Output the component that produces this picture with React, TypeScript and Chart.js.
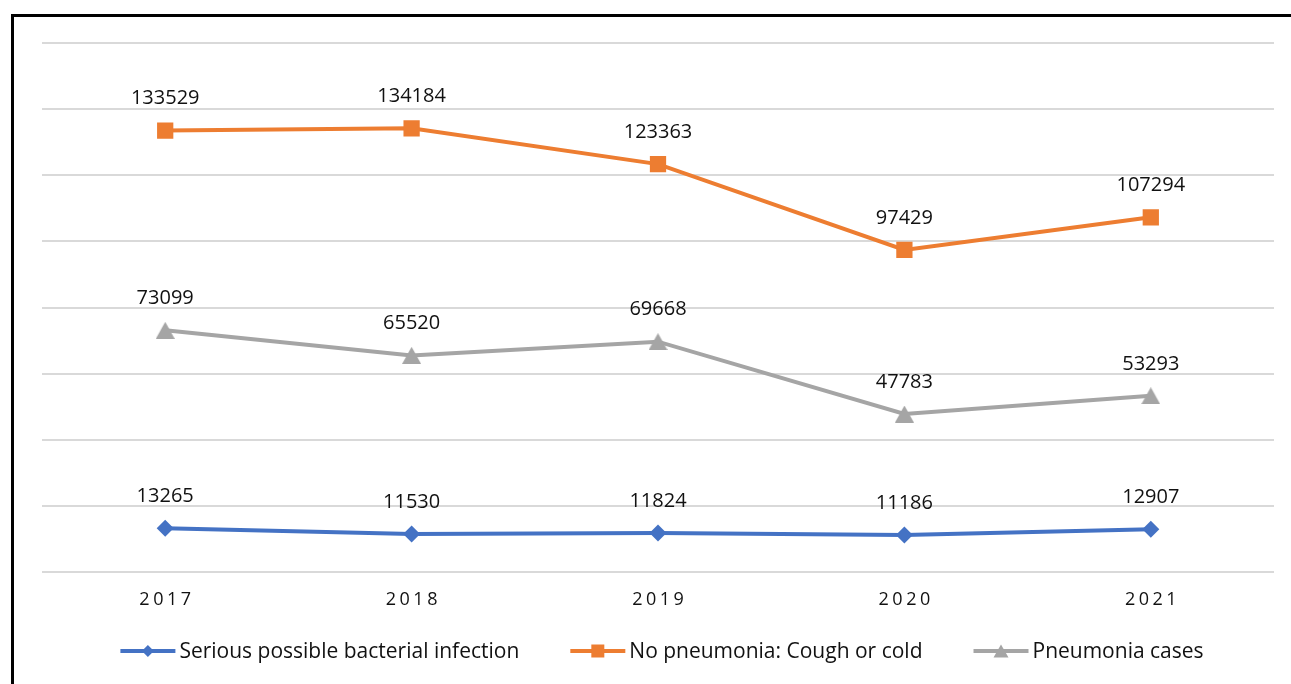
import React, { useEffect, useRef } from "react";
import { Chart, registerables } from "chart.js";

Chart.register(...registerables);

const years = ["2017", "2018", "2019", "2020", "2021"];
const seriesNames = [
  "Serious possible bacterial infection",
  "No pneumonia: Cough or cold",
  "Pneumonia cases",
];
const sbiValues = [13265, 11530, 11824, 11186, 12907];
const coughColdValues = [133529, 134184, 123363, 97429, 107294];
const pneumoniaValues = [73099, 65520, 69668, 47783, 53293];
const yMin = 0;
const yMax = 160000;
const yStep = 20000;

const colors = ["#4472C4", "#ED7D31", "#A5A5A5"];
const markerRadii = [8.5, 11.5, 10];

const FONT = '"Open Sans", "Liberation Sans", sans-serif';

function makeTriangle(w: number, h: number, color: string): HTMLCanvasElement {
  const c = document.createElement("canvas");
  c.width = Math.ceil(w);
  c.height = Math.ceil(h);
  const ctx = c.getContext("2d")!;
  ctx.fillStyle = color;
  ctx.beginPath();
  ctx.moveTo(c.width / 2, 0);
  ctx.lineTo(c.width, c.height);
  ctx.lineTo(0, c.height);
  ctx.closePath();
  ctx.fill();
  return c;
}

const dataLabelPlugin = {
  id: "dataLabels",
  afterDatasetsDraw(chart: any) {
    const ctx = chart.ctx;
    ctx.save();
    ctx.font = `20px ${FONT}`;
    ctx.fillStyle = "#111111";
    ctx.textAlign = "center";
    ctx.textBaseline = "middle";
    chart.data.datasets.forEach((ds: any, i: number) => {
      const meta = chart.getDatasetMeta(i);
      meta.data.forEach((pt: any, j: number) => {
        ctx.fillText(String(ds.data[j]), pt.x, pt.y - 32);
      });
    });
    ctx.restore();
  },
};

const xLabelPlugin = {
  id: "xLabels",
  afterDraw(chart: any) {
    const ctx = chart.ctx;
    const xs = chart.scales.x;
    ctx.save();
    ctx.font = `18px ${FONT}`;
    ctx.fillStyle = "#111111";
    ctx.textAlign = "center";
    ctx.textBaseline = "middle";
    const spacing = 3.5;
    (ctx as any).letterSpacing = `${spacing}px`;
    chart.data.labels.forEach((lab: string, i: number) => {
      ctx.fillText(lab, xs.getPixelForValue(i) + spacing / 2, 600);
    });
    ctx.restore();
  },
};

function drawMarker(ctx: CanvasRenderingContext2D, idx: number, x: number, y: number) {
  ctx.beginPath();
  if (idx === 0) {
    const r = 6;
    ctx.moveTo(x - r, y);
    ctx.lineTo(x, y - r);
    ctx.lineTo(x + r, y);
    ctx.lineTo(x, y + r);
  } else if (idx === 1) {
    const r = 6.5;
    ctx.rect(x - r, y - r, 2 * r, 2 * r);
  } else {
    const w = 7.5;
    const h = 6.5;
    ctx.moveTo(x, y - h);
    ctx.lineTo(x + w, y + h);
    ctx.lineTo(x - w, y + h);
  }
  ctx.closePath();
  ctx.fill();
}

const legendPlugin = {
  id: "customLegend",
  afterDraw(chart: any) {
    const ctx = chart.ctx;
    ctx.save();
    ctx.font = `21px ${FONT}`;
    ctx.textBaseline = "middle";
    ctx.textAlign = "left";
    const lineLen = 55;
    const textGap = 4;
    const itemGap = 51;
    const widths = seriesNames.map((n) => ctx.measureText(n).width);
    const total =
      widths.reduce((a, b) => a + b, 0) + seriesNames.length * (lineLen + textGap) + itemGap * (seriesNames.length - 1);
    const center = (chart.chartArea.left + chart.chartArea.right) / 2 + 4;
    let x = center - total / 2;
    const y = 651;
    seriesNames.forEach((name, i) => {
      ctx.strokeStyle = colors[i];
      ctx.fillStyle = colors[i];
      ctx.lineWidth = 4;
      ctx.beginPath();
      ctx.moveTo(x, y);
      ctx.lineTo(x + lineLen, y);
      ctx.stroke();
      drawMarker(ctx, i, x + lineLen / 2, y);
      ctx.fillStyle = "#111111";
      ctx.fillText(name, x + lineLen + textGap, y + 1);
      x += lineLen + textGap + widths[i] + itemGap;
    });
    ctx.restore();
  },
};

export default function App() {
  const canvasRef = useRef<HTMLCanvasElement | null>(null);

  useEffect(() => {
    if (!canvasRef.current) return;
    const seriesValues = [sbiValues, coughColdValues, pneumoniaValues];
    const pointStyles: any[] = ["rectRot", "rect", makeTriangle(19, 17, colors[2])];
    const chart = new Chart(canvasRef.current, {
      type: "line",
      data: {
        labels: years,
        datasets: seriesValues.map((vals, i) => ({
          label: seriesNames[i],
          data: vals,
          borderColor: colors[i],
          backgroundColor: colors[i],
          borderWidth: 4,
          pointStyle: pointStyles[i],
          pointRadius: markerRadii[i],
          pointHoverRadius: markerRadii[i],
          pointBorderWidth: 0,
          pointBackgroundColor: colors[i],
          tension: 0,
          fill: false,
        })),
      },
      options: {
        animation: false,
        responsive: true,
        maintainAspectRatio: false,
        layout: { padding: { left: 42, right: 17, top: 43, bottom: 0 } },
        plugins: {
          legend: { display: false },
          tooltip: { enabled: false },
          title: { display: false },
        },
        scales: {
          x: {
            type: "category",
            offset: true,
            grid: { display: false },
            border: { display: false },
            ticks: { display: false },
            afterFit: (s: any) => {
              s.height = 112;
            },
          },
          y: {
            min: yMin,
            max: yMax,
            ticks: { display: false, stepSize: yStep },
            border: { display: false },
            grid: { color: "#d9d9d9", lineWidth: 2, drawTicks: false },
            afterFit: (s: any) => {
              s.width = 0;
            },
          },
        },
      },
      plugins: [dataLabelPlugin, xLabelPlugin, legendPlugin],
    });
    return () => chart.destroy();
  }, []);

  return (
    <div style={{ position: "absolute", left: 0, top: 0, width: 1291, height: 684, overflow: "hidden", background: "#fff" }}>
      <canvas ref={canvasRef} style={{ position: "absolute", left: 0, top: 0 }} />
      <div
        style={{
          position: "absolute",
          left: 11,
          top: 14,
          width: 1320,
          height: 720,
          border: "3px solid #000",
          pointerEvents: "none",
        }}
      />
    </div>
  );
}
